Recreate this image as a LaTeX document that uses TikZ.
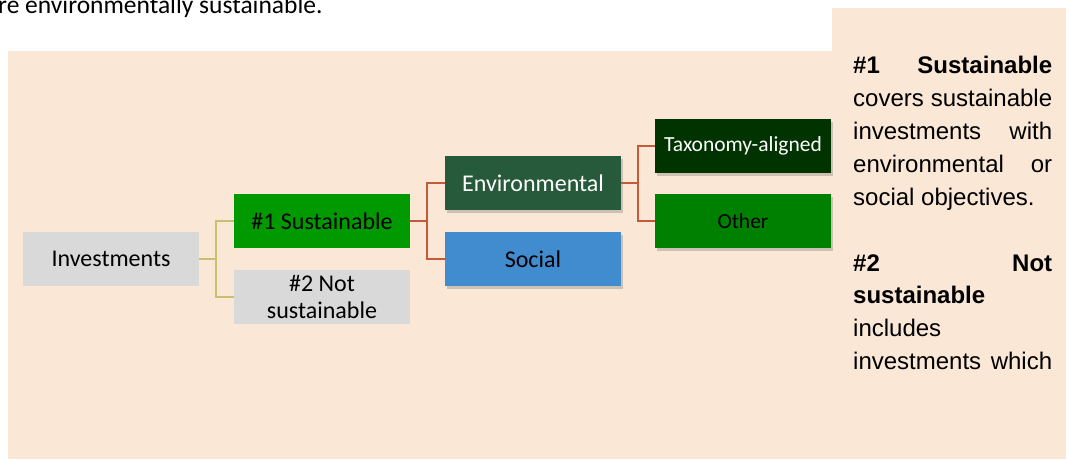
\documentclass[tikz,border=0pt]{standalone}
\usepackage{fontspec}
\setmainfont{Carlito}
\newfontfamily\arialf{Liberation Sans}
\usetikzlibrary{shadows,calc}
\definecolor{bgpeach}{HTML}{FAE7D6}
\definecolor{boxgray}{HTML}{D9D9D9}
\definecolor{susgreen}{HTML}{009900}
\definecolor{envgreen}{HTML}{265A3B}
\definecolor{socblue}{HTML}{418BCF}
\definecolor{taxgreen}{HTML}{003300}
\definecolor{othgreen}{HTML}{008000}
\definecolor{linered}{HTML}{C55A39}
\definecolor{lineolive}{HTML}{C8C06E}
\begin{document}
\begin{tikzpicture}[x=1pt,y=-1pt,
  box/.style={minimum width=176pt,minimum height=54pt,inner sep=0pt,align=center,
    font=\fontsize{24}{27}\selectfont},
  smallbox/.style={box,font=\fontsize{21.5}{24}\selectfont},
  shad/.style={drop shadow={shadow xshift=2pt,shadow yshift=-3pt,opacity=0.3,fill=black!60}},
  olivelink/.style={draw=lineolive,line width=1.6pt},
  redlink/.style={draw=linered,line width=2pt},
  sidetxt/.style={anchor=base west,inner sep=0pt,font=\arialf\fontsize{24}{33}\selectfont}]
\useasboundingbox (0,0) rectangle (1066,459);
% backgrounds
\fill[bgpeach] (8,51) rectangle (832,459);
\fill[bgpeach] (832,8) rectangle (1066,459);
% top text
\node[anchor=base west,inner sep=0pt,font=\fontsize{25.5}{28}\selectfont] (toptext) at (-2,13.5) {re environmentally sustainable.};
% boxes
\node[box,fill=boxgray] (inv) at (111,259) {Investments};
\node[box,fill=susgreen] (s1) at (322,221) {\#1 Sustainable};
\node[box,fill=boxgray] (s2) at (322,297) {\#2 Not\\sustainable};
\node[box,shad,fill=envgreen,text=white] (env) at (533,183) {Environmental};
\node[box,shad,fill=socblue] (soc) at (533,259) {Social};
\node[smallbox,shad,fill=taxgreen,text=white] (tax) at (743,146) {Taxonomy-aligned};
\node[smallbox,shad,fill=othgreen] (oth) at (743,221) {Other};
% connectors
\draw[olivelink] (inv.east) -- ++(17,0) coordinate (j1) |- (s1.west);
\draw[olivelink] (j1) |- (s2.west);
\draw[redlink] (s1.east) -- ++(17,0) coordinate (j2) |- (env.west);
\draw[redlink] (j2) |- (soc.west);
\draw[redlink] (env.east) -- ++(17,0) coordinate (j3) |- (tax.west);
\draw[redlink] (j3) |- (oth.west);
% side text
\node[sidetxt] (p1) at (853,73) {\makebox[199pt][s]{\bfseries \#1 Sustainable}};
\node[sidetxt] (p2) at (853,106) {\makebox[199pt][s]{covers sustainable}};
\node[sidetxt] (p3) at (853,139) {\makebox[199pt][s]{investments with}};
\node[sidetxt] (p4) at (853,172) {\makebox[199pt][s]{environmental or}};
\node[sidetxt] (p5) at (853,205) {social objectives.};
\node[sidetxt] (p6) at (853,271) {\makebox[199pt][s]{\bfseries \#2 Not}};
\node[sidetxt] (p7) at (853,303) {\bfseries sustainable};
\node[sidetxt] (p8) at (853,336) {includes};
\node[sidetxt] (p9) at (853,369) {\makebox[199pt][s]{investments which}};
\end{tikzpicture}
\end{document}
